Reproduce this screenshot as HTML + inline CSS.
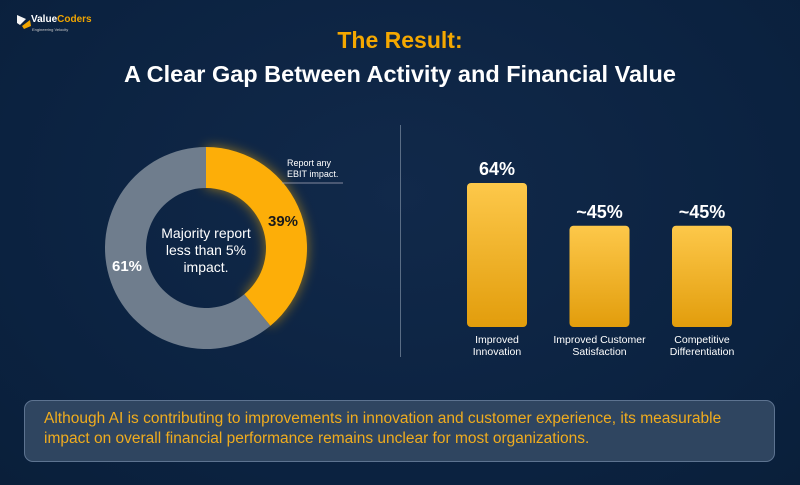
<!DOCTYPE html>
<html><head><meta charset="utf-8"><style>
body{margin:0;width:800px;height:485px;overflow:hidden;background:#0b2240;font-family:"Liberation Sans",sans-serif;}
#root{position:relative;width:800px;height:485px;background:radial-gradient(ellipse at 50% 40%,#11294a 0%,#0b2240 70%,#0a1f3a 100%);}
.t{position:absolute;white-space:nowrap;}
</style></head><body>
<div id="root">
<div class="t" style="left:14px;top:11px;">
 <svg width="20" height="20"><path d="M3 4 L12 8 L6 14 L3 12Z" fill="#f5f5f5"/><path d="M8 15 L16 9 L17 15 L10 18Z" fill="#f0a500"/></svg>
 <span style="position:absolute;left:17px;top:3px;font-size:10px;font-weight:bold;color:#fff;">Value<span style="color:#f0a500">Coders</span></span>
 <span style="position:absolute;left:18px;top:16px;font-size:4px;color:#ccc;">Engineering Velocity</span>
</div>
<div class="t" style="left:0;width:800px;text-align:center;top:27px;font-size:23px;font-weight:bold;color:#f5a800;">The Result:</div>
<div class="t" style="left:0;width:800px;text-align:center;top:61px;font-size:23.5px;font-weight:bold;color:#fff;">A Clear Gap Between Activity and Financial Value</div>
<div style="position:absolute;left:400px;top:125px;width:1px;height:232px;background:#5a6d85;"></div>
<svg id="chart" width="800" height="485" style="position:absolute;left:0;top:0">
 <defs>
  <linearGradient id="bg" x1="0" y1="0" x2="0" y2="1"><stop offset="0" stop-color="#fdc84a"/><stop offset="1" stop-color="#e29d0c"/></linearGradient>
  <filter id="glow" x="-50%" y="-50%" width="200%" height="200%"><feGaussianBlur stdDeviation="6"/></filter>
 </defs>
</svg>
<div style="position:absolute;left:24px;top:400px;width:751px;height:62px;box-sizing:border-box;border:1px solid #5d7390;border-radius:9px;background:#2f4560;"></div>
<div class="t" style="left:44px;top:409px;font-size:15.5px;line-height:20px;color:#f0ac1e;">Although AI is contributing to improvements in innovation and customer experience, its measurable<br>impact on overall financial performance remains unclear for most organizations.</div>
</div>
<script>
const donutLabels=["Report any EBIT impact","Other"];
const donutValues=[39,61];
const barCategories=[["Improved","Innovation"],["Improved Customer","Satisfaction"],["Competitive","Differentiation"]];
const barValues=[64,45,45];
const barValueLabels=["64%","~45%","~45%"];
const NS="http://www.w3.org/2000/svg";
const svg=document.getElementById('chart');
function mk(t,a){const e=document.createElementNS(NS,t);for(const k in a)e.setAttribute(k,a[k]);svg.appendChild(e);return e;}
const cx=206,cy=248,R=101,r=60;
const total=donutValues.reduce((a,b)=>a+b,0);
function pt(rad,ang){return [cx+rad*Math.sin(ang),cy-rad*Math.cos(ang)];}
function arc(a0,a1){const lg=(a1-a0)>Math.PI?1:0;const p0=pt(R,a0),p1=pt(R,a1),q1=pt(r,a1),q0=pt(r,a0);
return `M${p0} A${R},${R} 0 ${lg} 1 ${p1} L${q1} A${r},${r} 0 ${lg} 0 ${q0}Z`;}
let a=0;const colors=["#fdae08","#6f7d8d"];
const angles=[];
donutValues.forEach((v,i)=>{const a1=a+v/total*2*Math.PI;angles.push([a,a1]);a=a1;});
const g=mk('path',{d:arc(angles[0][0],angles[0][1]),fill:'#ffb400',opacity:0.55,filter:'url(#glow)'});


donutValues.forEach((v,i)=>{
 const p=mk('path',{d:arc(angles[i][0],angles[i][1]),fill:colors[i]});
 
 
});
const lp=[[283,226,"#1a1a1a"],[127,271,"#fff"]];
donutValues.forEach((v,i)=>{
 const t=mk('text',{x:lp[i][0],y:lp[i][1],'font-size':15,'font-weight':'bold',fill:lp[i][2],'text-anchor':'middle','font-family':'Liberation Sans'});
 t.textContent=v+'%';
 
 
});
["Majority report","less than 5%","impact."].forEach((s,i)=>{
 const t=mk('text',{x:206,y:238+i*17,'font-size':14,fill:'#fff','text-anchor':'middle','font-family':'Liberation Sans'});
 t.textContent=s;
 
 
});
["Report any","EBIT impact."].forEach((s,i)=>{
 const t=mk('text',{x:287,y:166+i*11,'font-size':9,fill:'#fff','font-family':'Liberation Sans'});
 t.textContent=s;
 
 
});
const ln=mk('line',{x1:282,y1:183,x2:343,y2:183,stroke:'#aab','stroke-width':0.8});


const base=327,scale=2.25,bw=60;
function xb(i){return 467+i*102.5;}
function yb(v){return base-v*scale;}
barValues.forEach((v,i)=>{
 const b=mk('rect',{x:xb(i),y:yb(v),width:bw,height:base-yb(v),rx:4,fill:'url(#bg)'});
 
 
 const t=mk('text',{x:xb(i)+bw/2,y:yb(v)-8,'font-size':18,'font-weight':'bold',fill:'#fff','text-anchor':'middle','font-family':'Liberation Sans'});
 t.textContent=barValueLabels[i];
 
 
 barCategories[i].forEach((s,j)=>{
  const c=mk('text',{x:xb(i)+bw/2,y:343+j*12,'font-size':10.5,fill:'#fff','text-anchor':'middle','font-family':'Liberation Sans'});
  c.textContent=s;
  
  
 });
});
</script>
</body></html>
